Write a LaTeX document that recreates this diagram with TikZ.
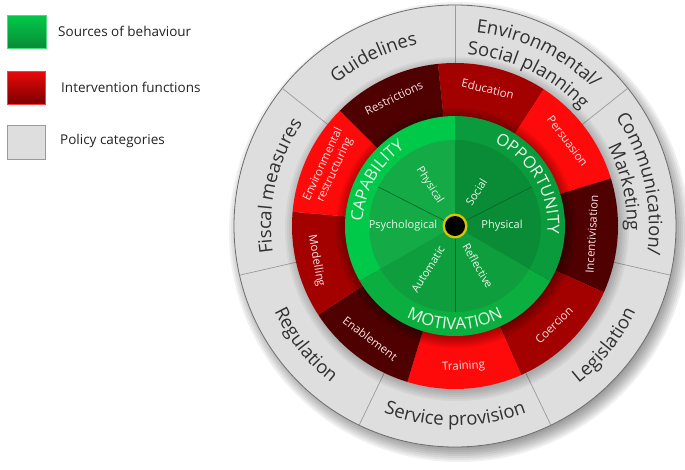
\documentclass[tikz,border=0pt]{standalone}
\usepackage{fontspec}
\setmainfont{Open Sans}
\usetikzlibrary{decorations.text}
\definecolor{greyfill}{HTML}{DEDEDE}
\definecolor{greyedge}{HTML}{6E6E6E}
\definecolor{greydiv}{HTML}{9A9A9A}
\definecolor{greytxt}{HTML}{303030}
\definecolor{redbright}{HTML}{FF0A0A}
\definecolor{redmid}{HTML}{A30000}
\definecolor{reddark}{HTML}{4F0000}
\definecolor{redtxt}{HTML}{F6E4E4}
\definecolor{capring}{HTML}{00C94A}
\definecolor{oppring}{HTML}{0A9C3C}
\definecolor{motring}{HTML}{0BAF3F}
\definecolor{capin}{HTML}{14AB46}
\definecolor{oppin}{HTML}{0A8C37}
\definecolor{motin}{HTML}{0F9E3E}
\definecolor{greenline}{HTML}{06662A}
\definecolor{greentxt}{HTML}{EAF8EA}
\definecolor{hubring}{HTML}{D8C400}
\definecolor{legtxt}{HTML}{222222}
\newcommand{\gfont}{\fontsize{18.5}{21}\selectfont\color{greytxt}}
\newcommand{\bfontg}{\fontsize{16.5}{19}\selectfont\color{greentxt}}
\tikzset{
  curvedlabel/.style={decorate, decoration={text along path, text align=center, text={#1}}},
  redlab/.style={font=\fontsize{11.5}{13}\selectfont, text=redtxt, align=center, inner sep=0pt},
  greenlab/.style={font=\fontsize{11}{12.5}\selectfont, text=greentxt, inner sep=0pt},
  legendlab/.style={font=\fontsize{13.5}{16}\selectfont, text=legtxt, anchor=west, inner sep=0pt},
  divider/.style={draw=greydiv, line width=0.7pt},
  spoke/.style={draw=greenline, line width=0.7pt},
}
\begin{document}
\begin{tikzpicture}[x=1pt,y=1pt]
\useasboundingbox (0,0) rectangle (685,-469);

% ---------- legend ----------
\shade[top color=capring, bottom color=oppin, draw=capring!70!white, line width=0.6pt] (7,-15) rectangle (46,-48);
\shade[top color=redbright!92!black, bottom color=redmid!75!black, draw=redbright!80!white, line width=0.6pt] (7,-71) rectangle (45,-104);
\fill[greyfill, draw=greydiv, line width=0.8pt] (7,-125) rectangle (45,-159);
\node[legendlab] (legsrc) at (58,-31) {Sources of behaviour};
\node[legendlab] (legint) at (61,-87) {Intervention functions};
\node[legendlab] (legpol) at (60,-141) {Policy categories};

\begin{scope}[shift={(455,-226)}]
% ---------- outer shadow ----------
\foreach \r in {212,214,...,230} \fill[black,opacity=0.06] (4,-6) circle (\r);
% ---------- policy ring ----------
\fill[greyfill] (0,0) circle (221);
\draw[greyedge, line width=0.8pt] (0,0) circle (221);
\foreach \a in {90,141.43,192.86,244.29,295.71,347.14,38.57}
  \draw[divider] (\a:160) -- (\a:221);
% red ring shadow on grey
\foreach \r in {162,164,...,172} \fill[black,opacity=0.045] (2,-3) circle (\r);
% ---------- intervention ring ----------
\foreach \a/\b/\c in {96/57/redmid, 57/17/redbright, 17/-24/reddark, -24/-66/redmid, -66/-107/redbright, -107/-147/reddark, -147/-185/redmid, -185/-225/redbright, -225/-264/reddark}
  \fill[\c] (0,0) -- (\a:163) arc[start angle=\a, end angle=\b, radius=163] -- cycle;
% green shadow on red
\foreach \r in {110,112,...,120} \fill[black,opacity=0.06] (1,-2) circle (\r);
% ---------- sources of behaviour ----------
\fill[capring] (0,0) -- (90:110) arc[start angle=90, end angle=210, radius=110] -- cycle;
\fill[motring] (0,0) -- (210:110) arc[start angle=210, end angle=330, radius=110] -- cycle;
\fill[oppring] (0,0) -- (-30:110) arc[start angle=-30, end angle=90, radius=110] -- cycle;
\fill[capin] (0,0) -- (90:86) arc[start angle=90, end angle=210, radius=86] -- cycle;
\fill[motin] (0,0) -- (210:86) arc[start angle=210, end angle=330, radius=86] -- cycle;
\fill[oppin] (0,0) -- (-30:86) arc[start angle=-30, end angle=90, radius=86] -- cycle;
\foreach \a in {27,153,270} \draw[spoke] (0,0) -- (\a:86);
% hub
\fill[hubring] (0,0) circle (12.5);
\fill[black] (0,0) circle (10);

% ---------- policy labels ----------
\path[curvedlabel={|\gfont|Guidelines}] (141.43:185) arc[start angle=141.43, end angle=90, radius=185];
\path[curvedlabel={|\gfont|Fiscal measures}] (192.86:184) arc[start angle=192.86, end angle=141.43, radius=184];
\path[curvedlabel={|\gfont|Regulation}] (192.86:200) arc[start angle=192.86, end angle=244.29, radius=200];
\path[curvedlabel={|\gfont|Service provision}] (244.29:200) arc[start angle=244.29, end angle=295.71, radius=200];
\path[curvedlabel={|\gfont|Legislation}] (295.71:200) arc[start angle=295.71, end angle=347.14, radius=200];
\path[curvedlabel={|\gfont|Communication/}] (38.57:194) arc[start angle=38.57, end angle=-12.86, radius=194];
\path[curvedlabel={|\gfont|Marketing}] (38.57:172) arc[start angle=38.57, end angle=-12.86, radius=172];
\path[curvedlabel={|\gfont|Environmental/}] (90:195) arc[start angle=90, end angle=38.57, radius=195];
\path[curvedlabel={|\gfont|Social planning}] (90:172) arc[start angle=90, end angle=38.57, radius=172];

% ---------- intervention labels ----------
\node[redlab, rotate=-13.5] (education) at (76.5:141) {Education};
\node[redlab, rotate=-53] (persuasion) at (37:141) {Persuasion};
\node[redlab, rotate=86.5] (incentivisation) at (-3.5:137) {Incentivisation};
\node[redlab, rotate=45] (coercion) at (-45:140) {Coercion};
\node[redlab, rotate=3.5] (training) at (-86.5:141) {Training};
\node[redlab, rotate=-37] (enablement) at (-127:141) {Enablement};
\node[redlab, rotate=-80] (modelling) at (-166:143) {Modelling};
\node[redlab, rotate=65] (envrestr) at (155:139) {Environmental\\restructuring};
\node[redlab, rotate=25.5] (restrictions) at (115.5:142) {Restrictions};

% ---------- source labels ----------
\path[curvedlabel={|\bfontg|CAPABILITY}] (210:92.5) arc[start angle=210, end angle=90, radius=92.5];
\path[curvedlabel={|\bfontg|OPPORTUNITY}] (90:92.5) arc[start angle=90, end angle=-30, radius=92.5];
\path[curvedlabel={|\bfontg|MOTIVATION}] (210:103.5) arc[start angle=210, end angle=330, radius=103.5];

\node[greenlab, rotate=-58] (physcap) at (122:48) {Physical};
\node[greenlab] (psych) at (180:52) {Psychological};
\node[greenlab, rotate=58] (auto) at (238:51) {Automatic};
\node[greenlab, rotate=-60] (refl) at (300:46) {Reflective};
\node[greenlab] (physopp) at (0:47) {Physical};
\node[greenlab, rotate=58] (social) at (58:40) {Social};
\end{scope}
\end{tikzpicture}
\end{document}
